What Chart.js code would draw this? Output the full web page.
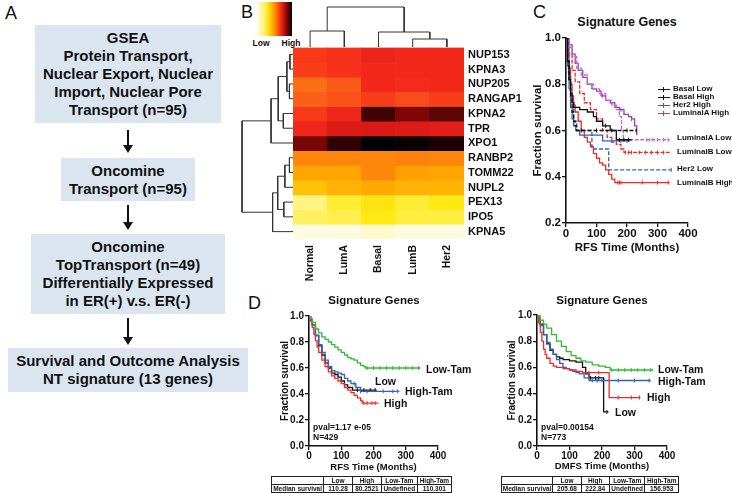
<!DOCTYPE html>
<html>
<head>
<meta charset="utf-8">
<script src="https://cdn.jsdelivr.net/npm/chart.js@4.4.0/dist/chart.umd.min.js"></script>
<style>
  body { margin: 0; background: #fff; }
  #fig { position: relative; width: 732px; height: 493px; overflow: hidden; font-family: 'Liberation Sans', Arial, sans-serif; color: #111; }
  #fig canvas { position: absolute; }
  .t { position: absolute; white-space: nowrap; font-weight: bold; line-height: 1; }
  .c { transform: translate(-50%, -50%); }
  .l { transform: translate(0, -50%); }
  .letter { position: absolute; font-size: 18px; line-height: 1; }
  .box { position: absolute; background: #dbe5f0; display: flex; align-items: center; justify-content: center; text-align: center; font-size: 15px; font-weight: bold; line-height: 18px; }
  .arrow { position: absolute; width: 2px; background: #111; }
  .arrow:after { content: ''; position: absolute; left: -4px; bottom: -8px; border-left: 5px solid transparent; border-right: 5px solid transparent; border-top: 8px solid #111; }
  .lg { position: absolute; width: 12px; height: 0; border-top-width: 1.3px; }
  .lg:after { content: ''; position: absolute; left: 5px; top: -3px; width: 1px; height: 5px; background: inherit; }
  table.med { position: absolute; border-collapse: collapse; table-layout: fixed; font-size: 6.5px; font-weight: bold; }
  table.med td { border: 0.8px solid #222; height: 7px; padding: 0; text-align: center; line-height: 7px; }
</style>
</head>
<body>
<div id="fig">
  <!-- panel A: flow chart -->
  <div class="letter" style="left:5px;top:4px">A</div>
  <div class="box" style="left:35px;top:25px;width:186px;height:98px">GSEA<br>Protein Transport,<br>Nuclear Export, Nuclear<br>Import, Nuclear Pore<br>Transport (n=95)</div>
  <div class="arrow" style="left:127px;top:130px;height:15px"></div>
  <div class="box" style="left:61px;top:158px;width:134px;height:43px">Oncomine<br>Transport (n=95)</div>
  <div class="arrow" style="left:127px;top:205px;height:17px"></div>
  <div class="box" style="left:31px;top:234px;width:194px;height:80px">Oncomine<br>TopTransport (n=49)<br>Differentially Expressed<br>in ER(+) v.s. ER(-)</div>
  <div class="arrow" style="left:127px;top:318px;height:19px"></div>
  <div class="box" style="left:8px;top:348px;width:240px;height:44px">Survival and Outcome Analysis<br>NT signature (13 genes)</div>

  <!-- panel B: heatmap -->
  <div class="letter" style="left:241px;top:3px">B</div>
  <div style="position:absolute;left:257px;top:2px;width:35px;height:34px;background:linear-gradient(to right,#fffbe6 0%,#fff27a 20%,#ffd800 35%,#ff8a00 52%,#f52a18 68%,#8a0505 85%,#000 100%)"></div>
  <div class="t c" style="left:261px;top:43px;font-size:8.5px">Low</div>
  <div class="t c" style="left:291px;top:43px;font-size:8.5px">High</div>
  <canvas id="dendroTop" width="171" height="47" style="left:293px;top:0px"></canvas>
  <canvas id="dendroLeft" width="53" height="192" style="left:240px;top:47px"></canvas>
  <canvas id="heat" width="237" height="253" style="left:293px;top:37px"></canvas>

  <!-- panel C -->
  <div class="letter" style="left:533px;top:3px">C</div>
  <div class="t c" style="left:627px;top:22px;font-size:12.5px">Signature Genes</div>
  <canvas id="chartC" width="169" height="227" style="left:531px;top:28px"></canvas>
  <div id="legendC"></div>

  <!-- panel D -->
  <div class="letter" style="left:248px;top:294px">D</div>
  <div class="t c" style="left:374px;top:301px;font-size:11.5px">Signature Genes</div>
  <div class="t c" style="left:602px;top:301px;font-size:11.5px">Signature Genes</div>
  <canvas id="chartD1" width="171" height="167" style="left:279px;top:306px"></canvas>
  <canvas id="chartD2" width="173" height="167" style="left:506px;top:305px"></canvas>
  <div id="labelsD"></div>
  <table class="med" id="tableD1" style="left:271px;top:476px;width:181px"></table>
  <table class="med" id="tableD2" style="left:501px;top:476px;width:178px"></table>
</div>

<script>
// ---------- Panel B data ----------
const subtypes = ['Normal', 'LumA', 'Basal', 'LumB', 'Her2'];
const genes = ['NUP153', 'KPNA3', 'NUP205', 'RANGAP1', 'KPNA2', 'TPR', 'XPO1',
               'RANBP2', 'TOMM22', 'NUPL2', 'PEX13', 'IPO5', 'KPNA5'];
// relative expression (0 = low, 1 = high), one row per gene, columns follow subtypes
const expression = [
  [0.63, 0.64, 0.68, 0.66, 0.66],
  [0.62, 0.64, 0.66, 0.66, 0.66],
  [0.55, 0.58, 0.66, 0.65, 0.66],
  [0.57, 0.59, 0.62, 0.60, 0.62],
  [0.63, 0.67, 0.93, 0.86, 0.90],
  [0.67, 0.72, 0.73, 0.72, 0.71],
  [0.87, 0.95, 1.00, 0.99, 0.97],
  [0.50, 0.50, 0.50, 0.51, 0.50],
  [0.44, 0.44, 0.50, 0.45, 0.44],
  [0.38, 0.41, 0.43, 0.41, 0.41],
  [0.20, 0.27, 0.31, 0.27, 0.30],
  [0.23, 0.25, 0.30, 0.26, 0.26],
  [0.02, 0.02, 0.06, 0.02, 0.02]
];
// hierarchical clustering merges: [nodeA, nodeB, height]
const geneMerges = [
  [0, 1, 0.6], [2, 3, 0.7], [13, 14, 1.2], [4, 5, 1.9], [15, 16, 2.9], [17, 6, 4.3],
  [7, 8, 0.7], [19, 9, 1.6], [10, 11, 1.8], [20, 21, 3.0], [22, 12, 4.0], [18, 23, 10]
];
const subtypeMerges = [[0, 1, 4], [3, 4, 2], [2, 6, 3.75], [5, 7, 10]];

// ---------- Panel C data (RFS by subtype) ----------
const cBasalLowTime  = [0, 5, 10, 15, 20, 25, 30, 35, 232];
const cBasalLowSurv  = [1, 0.9, 0.82, 0.75, 0.68, 0.64, 0.62, 0.6, 0.6];
const cBasalHighTime = [0, 5, 10, 15, 20, 25, 45, 70, 90, 100, 120, 145, 165, 215];
const cBasalHighSurv = [1, 0.9, 0.82, 0.76, 0.72, 0.7, 0.69, 0.68, 0.66, 0.64, 0.62, 0.6, 0.56, 0.56];
const cHer2HighTime  = [0, 5, 10, 15, 20, 25, 32, 45, 120, 210];
const cHer2HighSurv  = [1, 0.88, 0.78, 0.7, 0.65, 0.62, 0.6, 0.58, 0.555, 0.555];
const cHer2LowTime   = [0, 8, 15, 25, 35, 85, 140, 345];
const cHer2LowSurv   = [1, 0.85, 0.72, 0.64, 0.6, 0.52, 0.43, 0.43];
const cLumAHighTime  = [0, 10, 20, 30, 40, 55, 70, 85, 100, 115, 130, 145, 160, 175, 190, 205, 215, 225, 232];
const cLumAHighSurv  = [1, 0.97, 0.93, 0.89, 0.86, 0.83, 0.8, 0.78, 0.77, 0.75, 0.73, 0.72, 0.7, 0.69, 0.67, 0.66, 0.65, 0.62, 0.58];
const cLumALowTime   = [0, 10, 20, 35, 50, 70, 90, 110, 130, 150, 165, 175, 182, 188, 340];
const cLumALowSurv   = [1, 0.96, 0.92, 0.87, 0.84, 0.8, 0.78, 0.76, 0.73, 0.71, 0.69, 0.66, 0.6, 0.56, 0.56];
const cLumBHighTime  = [0, 5, 10, 15, 20, 25, 30, 40, 50, 60, 70, 80, 90, 100, 110, 120, 130, 140, 150, 160, 340];
const cLumBHighSurv  = [1, 0.94, 0.87, 0.8, 0.75, 0.71, 0.68, 0.64, 0.6, 0.57, 0.55, 0.53, 0.5, 0.48, 0.46, 0.45, 0.43, 0.41, 0.39, 0.375, 0.375];
const cLumBLowTime   = [0, 5, 10, 20, 30, 45, 60, 80, 100, 120, 135, 150, 165, 180, 190, 340];
const cLumBLowSurv   = [1, 0.97, 0.93, 0.86, 0.81, 0.76, 0.72, 0.69, 0.65, 0.6, 0.57, 0.55, 0.54, 0.52, 0.505, 0.505];

// ---------- Panel D data (RFS left, DMFS right) ----------
const dRfsLowTamTime  = [0, 5, 10, 20, 30, 40, 50, 60, 70, 80, 90, 100, 110, 120, 130, 140, 150, 160, 170, 175, 345];
const dRfsLowTamSurv  = [1, 0.98, 0.95, 0.9, 0.87, 0.84, 0.82, 0.8, 0.78, 0.76, 0.74, 0.72, 0.7, 0.68, 0.67, 0.66, 0.64, 0.62, 0.61, 0.6, 0.6];
const dRfsHighTime    = [0, 5, 10, 15, 20, 25, 30, 40, 50, 60, 70, 80, 90, 100, 110, 120, 130, 140, 150, 160, 165, 215];
const dRfsHighSurv    = [1, 0.96, 0.91, 0.86, 0.81, 0.76, 0.72, 0.66, 0.61, 0.57, 0.54, 0.52, 0.5, 0.48, 0.45, 0.43, 0.41, 0.39, 0.37, 0.35, 0.33, 0.33];
const dRfsLowTime     = [0, 5, 10, 20, 30, 40, 50, 60, 70, 80, 90, 100, 110, 120, 135, 210];
const dRfsLowSurv     = [1, 0.97, 0.93, 0.85, 0.77, 0.7, 0.64, 0.6, 0.56, 0.55, 0.53, 0.5, 0.47, 0.45, 0.43, 0.43];
const dRfsHighTamTime = [0, 5, 10, 20, 30, 40, 50, 60, 70, 80, 90, 100, 110, 120, 130, 145, 160, 280];
const dRfsHighTamSurv = [1, 0.97, 0.93, 0.85, 0.78, 0.72, 0.66, 0.61, 0.58, 0.57, 0.56, 0.55, 0.52, 0.5, 0.48, 0.45, 0.42, 0.42];

const dDmfsLowTamTime  = [0, 10, 20, 30, 45, 60, 75, 90, 105, 120, 135, 150, 170, 190, 210, 225, 358];
const dDmfsLowTamSurv  = [1, 0.96, 0.93, 0.9, 0.85, 0.8, 0.76, 0.72, 0.69, 0.67, 0.65, 0.64, 0.62, 0.61, 0.6, 0.58, 0.58];
const dDmfsHighTime    = [0, 5, 10, 15, 20, 25, 30, 40, 50, 60, 80, 100, 120, 140, 222, 318];
const dDmfsHighSurv    = [1, 0.94, 0.87, 0.8, 0.74, 0.7, 0.67, 0.63, 0.61, 0.6, 0.59, 0.58, 0.57, 0.56, 0.37, 0.37];
const dDmfsLowTime     = [0, 5, 10, 20, 30, 40, 50, 60, 70, 80, 100, 120, 140, 150, 160, 205, 220];
const dDmfsLowSurv     = [1, 0.97, 0.93, 0.85, 0.78, 0.73, 0.7, 0.68, 0.67, 0.66, 0.65, 0.64, 0.6, 0.55, 0.52, 0.26, 0.26];
const dDmfsHighTamTime = [0, 5, 10, 20, 30, 40, 50, 60, 70, 80, 90, 100, 110, 120, 130, 145, 160, 350];
const dDmfsHighTamSurv = [1, 0.96, 0.92, 0.85, 0.79, 0.74, 0.7, 0.66, 0.63, 0.6, 0.59, 0.58, 0.57, 0.56, 0.55, 0.52, 0.5, 0.5];

// median survival tables
const medianGroups = ['Low', 'High', 'Low-Tam', 'High-Tam'];
const medianRfs  = ['110.28', '80.2521', 'Undefined', '110.301'];
const medianDmfs = ['205.68', '222.84', 'Undefined', '156.953'];

const FONT = "'Liberation Sans', Arial, sans-serif";
Chart.defaults.font.family = FONT;
Chart.defaults.font.weight = 'bold';
Chart.defaults.color = '#111';
Chart.defaults.animation = false;

function f(size) { return { family: FONT, size: size, weight: 'bold' }; }

// colour scale for the heatmap: cream -> yellow -> orange -> red -> black
const heatStops = [
  [0.00, [255, 252, 235]], [0.20, [255, 244, 130]], [0.30, [255, 232, 20]],
  [0.45, [255, 160, 0]], [0.55, [252, 110, 22]], [0.65, [246, 42, 26]],
  [0.75, [212, 22, 22]], [0.87, [120, 6, 6]], [1.00, [0, 0, 0]]
];
function heatColor(v) {
  for (let i = 1; i < heatStops.length; i++) {
    const [p1, c1] = heatStops[i];
    const [p0, c0] = heatStops[i - 1];
    if (v <= p1) {
      const k = (v - p0) / (p1 - p0);
      const c = c0.map((x, j) => Math.round(x + (c1[j] - x) * k));
      return `rgb(${c[0]},${c[1]},${c[2]})`;
    }
  }
  return '#000';
}

// turns the merge list into U shaped links (position, height)
function dendroLinks(nLeaves, merges) {
  const pos = [], height = [], links = [];
  for (let i = 0; i < nLeaves; i++) { pos.push(i + 0.5); height.push(0); }
  merges.forEach(([a, b, h]) => {
    links.push([[pos[a], height[a]], [pos[a], h], [pos[b], h], [pos[b], height[b]]]);
    pos.push((pos[a] + pos[b]) / 2);
    height.push(h);
  });
  return links;
}

function dendroChart(id, links, horizontal, xScale, yScale) {
  new Chart(document.getElementById(id), {
    type: 'scatter',
    data: {
      datasets: links.map(link => ({
        data: link.map(([p, h]) => horizontal ? { x: h, y: p } : { x: p, y: h }),
        showLine: true, borderColor: '#333', borderWidth: 1, pointRadius: 0, clip: false
      }))
    },
    options: {
      responsive: false,
      layout: { padding: 0 },
      plugins: { legend: { display: false }, tooltip: { enabled: false } },
      scales: {
        x: Object.assign({ type: 'linear', display: false }, xScale),
        y: Object.assign({ type: 'linear', display: false }, yScale)
      }
    }
  });
}

function desenharHeatmap() {
  const noGrid = { display: false, drawTicks: false, tickLength: 0 };
  new Chart(document.getElementById('heat'), {
    type: 'bar',
    data: {
      labels: subtypes,
      datasets: genes.map((g, r) => ({
        label: g,
        data: subtypes.map(() => [r, r + 1]),
        backgroundColor: expression[r].map(heatColor),
        grouped: false, categoryPercentage: 1, barPercentage: 1, borderWidth: 0
      }))
    },
    options: {
      responsive: false,
      layout: { padding: { top: 10, left: 0, right: 0, bottom: 0 } },
      plugins: { legend: { display: false }, tooltip: { enabled: false } },
      scales: {
        x: {
          grid: noGrid, border: { display: false },
          ticks: { minRotation: 90, maxRotation: 90, padding: 6, font: f(10.5) },
          afterFit: s => { s.height = 51; }
        },
        y: {
          position: 'right', min: 0, max: 13, reverse: true,
          grid: noGrid, border: { display: false },
          afterBuildTicks: s => { s.ticks = genes.map((g, i) => ({ value: i + 0.5 })); },
          ticks: { autoSkip: false, padding: 4, font: f(11), callback: (v, i) => genes[i] },
          afterFit: s => { s.width = 66; }
        }
      }
    }
  });
  dendroChart('dendroTop', dendroLinks(subtypes.length, subtypeMerges), false,
    { min: 0, max: 5 }, { min: 0, max: 11.75 });
  dendroChart('dendroLeft', dendroLinks(genes.length, geneMerges), true,
    { min: 0, max: 10.4, reverse: true }, { min: 0, max: 13, reverse: true });
}

// survival at time x on a step curve
function stepAt(t, s, x) {
  let y = s[0];
  for (let i = 0; i < t.length; i++) if (t[i] <= x) y = s[i];
  return y;
}

function kmDatasets(curves) {
  const out = [];
  curves.forEach(c => {
    out.push({
      type: 'line', data: c.t.map((x, i) => ({ x, y: c.s[i] })), stepped: 'before',
      borderColor: c.color, borderWidth: 1.3, borderDash: c.dash || [], pointRadius: 0, fill: false
    });
    if (c.cens) {
      out.push({
        type: 'scatter', data: c.cens.map(x => ({ x, y: stepAt(c.t, c.s, x) })),
        pointStyle: 'line', rotation: 90, pointRadius: 2, borderColor: c.color, borderWidth: 1, showLine: false
      });
    }
  });
  return out;
}

function kmChart(id, curves, o) {
  const axisGrid = { display: true, drawOnChartArea: false, drawTicks: true, tickLength: 4, color: '#111', lineWidth: 1.3 };
  new Chart(document.getElementById(id), {
    type: 'line',
    data: { datasets: kmDatasets(curves) },
    options: {
      responsive: false,
      layout: { padding: { top: 10, right: 12, left: 0, bottom: 0 } },
      plugins: { legend: { display: false }, tooltip: { enabled: false } },
      scales: {
        x: {
          type: 'linear', min: 0, max: 400,
          ticks: { stepSize: 100, padding: 0, font: f(o.tick) },
          grid: axisGrid, border: { color: '#111', width: 1.6 },
          title: { display: true, text: o.xTitle, padding: 0, font: f(o.xTitleSize) },
          afterFit: s => { s.height = o.xH; }
        },
        y: {
          type: 'linear', min: o.ymin, max: 1,
          ticks: { stepSize: 0.2, padding: 1, font: f(o.tick), callback: v => v.toFixed(1) },
          grid: axisGrid, border: { color: '#111', width: 1.6 },
          title: { display: true, text: 'Fraction survival', padding: 0, font: f(o.yTitleSize) },
          afterFit: s => { s.width = o.yW; }
        }
      }
    }
  });
}

const BLUE = '#3162b5', RED = '#ee2a2a', GREEN = '#33bb33', BLACK = '#111';
const PURPLE = '#9b3fb5', LILAC = '#bb70d0';

function desenharPainelC() {
  kmChart('chartC', [
    { t: cBasalLowTime, s: cBasalLowSurv, color: BLACK, dash: [4, 2], cens: [50, 100, 150, 200, 230] },
    { t: cBasalHighTime, s: cBasalHighSurv, color: BLACK, cens: [130, 175, 190, 205] },
    { t: cHer2LowTime, s: cHer2LowSurv, color: BLUE, dash: [4, 2], cens: [345] },
    { t: cHer2HighTime, s: cHer2HighSurv, color: BLUE, cens: [150, 180, 200] },
    { t: cLumALowTime, s: cLumALowSurv, color: LILAC, dash: [4, 1.5], cens: [265, 275, 285, 300, 320, 335] },
    { t: cLumAHighTime, s: cLumAHighSurv, color: PURPLE, cens: [120, 180, 215] },
    { t: cLumBLowTime, s: cLumBLowSurv, color: RED, dash: [4, 1.5], cens: [195, 205, 215, 240, 260, 280, 300, 320] },
    { t: cLumBHighTime, s: cLumBHighSurv, color: RED, cens: [170, 175, 180, 250, 300, 335] }
  ], { ymin: 0.2, xTitle: 'RFS Time (Months)', tick: 11.5, xTitleSize: 11.5, yTitleSize: 11.5, yW: 35, xH: 32 });

  // legend and end labels as page text
  const legend = [
    ['Basal Low', BLACK, 'dashed', 89], ['Basal High', BLACK, 'solid', 97],
    ['Her2 High', BLUE, 'solid', 105], ['LuminalA High', PURPLE, 'solid', 113]
  ];
  const ends = [['LuminalA Low', 138], ['LuminalB Low', 152], ['Her2 Low', 169], ['LuminalB High', 183]];
  let html = '';
  legend.forEach(([txt, col, st, y]) => {
    html += `<div class="lg" style="left:658px;top:${y}px;border-top-style:${st};border-top-color:${col};background:${col}"></div>`;
    html += `<div class="t l" style="left:673px;top:${y}px;font-size:8px">${txt}</div>`;
  });
  ends.forEach(([txt, y]) => {
    html += `<div class="t l" style="left:677px;top:${y}px;font-size:8px">${txt}</div>`;
  });
  document.getElementById('legendC').innerHTML = html;
}

function desenharPainelD() {
  kmChart('chartD1', [
    { t: dRfsLowTamTime, s: dRfsLowTamSurv, color: GREEN, cens: [180, 200, 220, 240, 260, 280, 300, 320, 340] },
    { t: dRfsHighTime, s: dRfsHighSurv, color: RED, cens: [170, 180, 195, 205] },
    { t: dRfsHighTamTime, s: dRfsHighTamSurv, color: BLUE, cens: [140, 160, 180, 230, 260, 275] },
    { t: dRfsLowTime, s: dRfsLowSurv, color: BLACK, cens: [150, 170, 190, 205] }
  ], { ymin: 0, xTitle: 'RFS Time (Months)', tick: 10, xTitleSize: 9.5, yTitleSize: 10, yW: 30, xH: 27 });

  kmChart('chartD2', [
    { t: dDmfsLowTamTime, s: dDmfsLowTamSurv, color: GREEN, cens: [230, 250, 270, 290, 310, 330, 350] },
    { t: dDmfsHighTime, s: dDmfsHighSurv, color: RED, cens: [160, 190, 250, 290, 315] },
    { t: dDmfsHighTamTime, s: dDmfsHighTamSurv, color: BLUE, cens: [170, 185, 200, 250, 300, 345] },
    { t: dDmfsLowTime, s: dDmfsLowSurv, color: BLACK, cens: [165, 180, 190, 215] }
  ], { ymin: 0, xTitle: 'DMFS Time (Months)', tick: 10, xTitleSize: 9.5, yTitleSize: 10, yW: 31, xH: 26 });

  const labels = [
    ['Low-Tam', 426, 369], ['Low', 375, 381], ['High-Tam', 405, 391], ['High', 384, 403],
    ['Low-Tam', 658, 369], ['High-Tam', 658, 381], ['High', 647, 397], ['Low', 615, 412]
  ];
  let html = '';
  labels.forEach(([txt, x, y]) => {
    html += `<div class="t l" style="left:${x}px;top:${y}px;font-size:10.5px">${txt}</div>`;
  });
  html += `<div class="t l" style="left:313px;top:427px;font-size:8.5px">pval=1.17 e-05</div>`;
  html += `<div class="t l" style="left:313px;top:437px;font-size:8.5px">N=429</div>`;
  html += `<div class="t l" style="left:541px;top:427px;font-size:8.5px">pval=0.00154</div>`;
  html += `<div class="t l" style="left:541px;top:437px;font-size:8.5px">N=773</div>`;
  document.getElementById('labelsD').innerHTML = html;

  const widths = [29, 16, 16, 20, 19];
  function montarTabela(id, values) {
    const cols = widths.map(w => `<col style="width:${w}%">`).join('');
    const head = '<tr><td></td>' + medianGroups.map(g => `<td>${g}</td>`).join('') + '</tr>';
    const row = '<tr><td>Median survival</td>' + values.map(v => `<td>${v}</td>`).join('') + '</tr>';
    document.getElementById(id).innerHTML = cols + head + row;
  }
  montarTabela('tableD1', medianRfs);
  montarTabela('tableD2', medianDmfs);
}

desenharHeatmap();
desenharPainelC();
desenharPainelD();
</script>
</body>
</html>
